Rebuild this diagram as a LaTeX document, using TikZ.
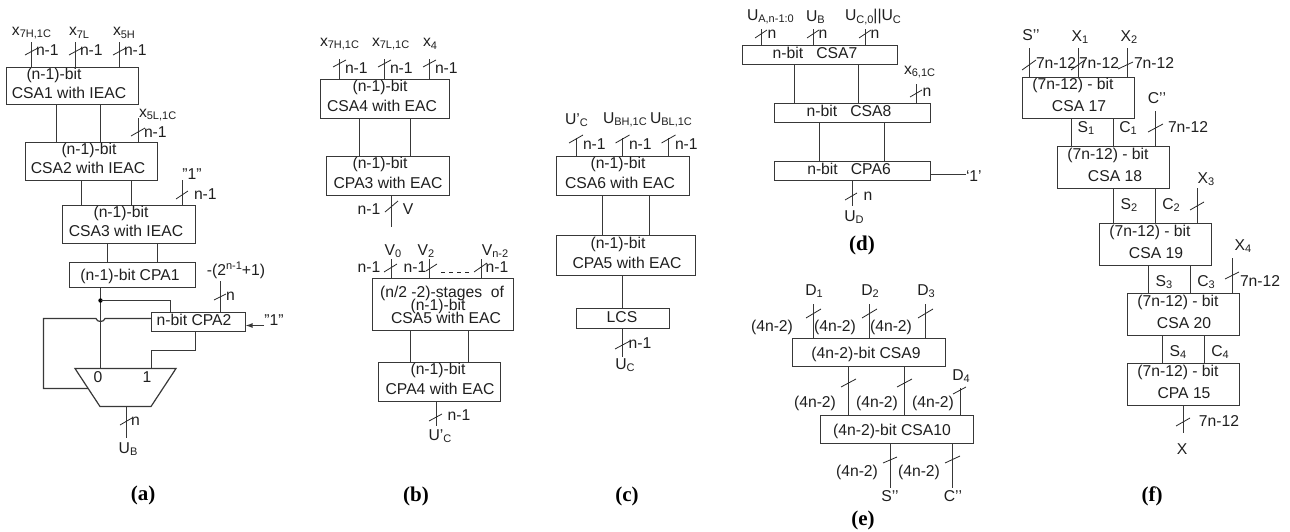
\documentclass[tikz,border=0pt]{standalone}
\usepackage{fontspec}
\usetikzlibrary{arrows.meta}
\setmainfont{Liberation Sans}
\newfontfamily\capfont{Liberation Serif}
\newcounter{tn}
\tikzset{
  wirest/.style={line width=1.2pt,color=black!78},
  tickst/.style={line width=0.8pt,color=black!85},
  boxst/.style={draw=black!78,line width=1.2pt,fill=none,inner sep=0pt,outer sep=0pt},
  txt/.style={inner sep=0pt,outer sep=0pt,text=black!88,font=\fontsize{15.7}{15.7}\selectfont},
  capst/.style={inner sep=0pt,outer sep=0pt,text=black,font=\capfont\bfseries\fontsize{21}{21}\selectfont}
}
\newcommand{\sbs}[1]{\raisebox{-0.3ex}{\fontsize{11}{11}\selectfont #1}}
\newcommand{\sps}[1]{\raisebox{0.75ex}{\fontsize{11}{11}\selectfont #1}}
\newcommand{\qt}{\char34\relax}
\newcommand{\dq}{'\kern0pt'}
\newcommand{\snp}[2]{\pgfmathsetmacro{#1}{floor(#2)+0.5}}
% box: name x1 y1 x2 y2 (edges snapped to pixel centres)
\newcommand{\bx}[5]{%
  \snp{\xa}{#2}\snp{\ya}{#3}\snp{\xb}{#4}\snp{\yb}{#5}%
  \pgfmathsetmacro{\bw}{\xb-\xa}\pgfmathsetmacro{\bh}{\yb-\ya}%
  \pgfmathsetmacro{\cxx}{(\xa+\xb)/2}\pgfmathsetmacro{\cyy}{(\ya+\yb)/2}%
  \node[boxst,minimum width=\bw pt,minimum height=\bh pt] (#1) at (\cxx,\cyy) {};}
% centred and left-anchored text
\newcommand{\lb}[3]{\stepcounter{tn}\node[txt] (t\thetn) at (#1,#2) {#3};}
\newcommand{\lw}[3]{\stepcounter{tn}\node[txt,anchor=west] (t\thetn) at (#1,#2) {#3};}
% wire between boxes at x
\newcommand{\wire}[3]{\stepcounter{tn}\snp{\xa}{#3}\coordinate (c\thetn) at (\xa,0);\draw[wirest] (#1.south -| c\thetn) -- (#2.north -| c\thetn);}
% free wire into top of box: box x ytop
\newcommand{\inw}[3]{\stepcounter{tn}\snp{\xa}{#2}\coordinate (c\thetn) at (\xa,#3);\draw[wirest] (c\thetn) -- (#1.north -| c\thetn);}
% free wire out of bottom: box x ybot
\newcommand{\outw}[3]{\stepcounter{tn}\snp{\xa}{#2}\coordinate (c\thetn) at (\xa,#3);\draw[wirest] (#1.south -| c\thetn) -- (c\thetn);}
\newcommand{\tk}[4]{\draw[tickst] (#1,#2) -- (#3,#4);}
\begin{document}
\begin{tikzpicture}[x=1pt,y=-1pt]
\useasboundingbox (0,0) rectangle (1290,531);
%% (a)
\bx{csaa}{6}{67}{138}{104}
\bx{csab}{25}{142}{157}{180}
\bx{csac}{62.5}{205}{195}{243}
\bx{cpaa}{69}{262}{195}{287}
\bx{cpab}{151}{312}{245}{331}
\lb{54}{75}{(n-1)-bit}\lb{69}{93}{CSA1 with IEAC}
\lb{89}{150}{(n-1)-bit}\lb{88}{168}{CSA2 with IEAC}
\lb{121}{213}{(n-1)-bit}\lb{126}{231}{CSA3 with IEAC}
\lb{130}{276}{(n-1)-bit CPA1}\lb{194}{320}{n-bit CPA2}
\inw{csaa}{31}{42}\inw{csaa}{75}{42}\inw{csaa}{119}{42}
\tk{25}{55}{38}{48}\tk{69}{55}{82}{48}\tk{113}{55}{126}{48}
\lw{12}{33}{x\sbs{7H,1C}}\lw{69}{33}{x\sbs{7L}}\lw{113}{33}{x\sbs{5H}}
\lw{36}{50}{n-1}\lw{80}{50}{n-1}\lw{124}{50}{n-1}
\wire{csaa}{csab}{56}\wire{csaa}{csab}{100}
\inw{csab}{138}{118}\tk{131}{136}{145}{128}
\lw{139}{115}{x\sbs{5L,1C}}\lw{144}{132}{n-1}
\wire{csab}{csac}{81.5}\wire{csab}{csac}{131.5}
\inw{csac}{182}{180}\tk{176}{199}{188}{191}
\lb{192}{174}{\qt1\qt}\lw{194}{194}{n-1}
\wire{csac}{cpaa}{107}\wire{csac}{cpaa}{157}
% mux
\coordinate (mtl) at (75,368.5);\coordinate (mtr) at (176,368.5);
\coordinate (mbr) at (151,406.5);\coordinate (mbl) at (100,406.5);
\draw[wirest] (mtl) -- (mtr) -- (mbr) -- (mbl) -- cycle;
\lb{98}{377}{0}\lb{147}{377}{1}
\coordinate (dot) at (100.5,300.5);
\coordinate (mi0) at (100.5,368.5);
\draw[wirest] (cpaa.south -| dot) -- (mi0);
\fill[black] (dot) circle (2.2pt);
\coordinate (dotx) at (170.5,300.5);
\draw[wirest] (dot) -- (dotx) -- (cpab.north -| dotx);
\coordinate (hopa) at (151.5,318.5);
\coordinate (mil) at (88,388.5);
\draw[wirest] (hopa) -- (105,318.5) .. controls (104,322.5) and (97,322.5) .. (96,318.5) -- (43.5,318.5) -- (43.5,388.5) -- (mil);
\coordinate (cpbo) at (195.5,350.5);\coordinate (mi1) at (151.5,368.5);
\draw[wirest] (cpab.south -| cpbo) -- (cpbo) -| (mi1);
\inw{cpab}{220}{281}\tk{214}{300}{226}{294}
\lb{236}{270}{-(2\sps{n-1}+1)}\lw{226}{296}{n}
\coordinate (one) at (264,325.5);
\draw[wirest,-{Latex[length=7pt,width=5pt]}] (one) -- (cpab.east |- one);
\lb{274}{320}{\qt1\qt}
\coordinate (mo) at (126.5,406.5);\coordinate (moe) at (126.5,438);
\draw[wirest] (mo) -- (moe);
\tk{120}{425}{132}{418}\lw{131}{421}{n}\lb{128}{449}{U\sbs{B}}
\node[capst] (capa) at (143,495) {(a)};
%% (b)
\bx{csad}{320}{79}{449}{118}
\bx{cpac}{326.5}{156}{449}{195}
\lb{380}{87}{(n-1)-bit}\lb{382}{106}{CSA4 with EAC}
\lb{380}{164}{(n-1)-bit}\lb{388}{183}{CPA3 with EAC}
\inw{csad}{339.5}{59}\inw{csad}{384.5}{59}\inw{csad}{429.5}{59}
\tk{333}{67}{346}{60}\tk{378}{67}{391}{60}\tk{423}{67}{436}{60}
\lw{320}{44}{x\sbs{7H,1C}}\lw{372}{44}{x\sbs{7L,1C}}\lw{423}{44}{x\sbs{4}}
\lw{345}{68}{n-1}\lw{390}{68}{n-1}\lw{435}{68}{n-1}
\wire{csad}{cpac}{359}\wire{csad}{cpac}{410}
\outw{cpac}{391}{227}\tk{385}{212}{398}{201}
\lb{369}{209}{n-1}\lb{408}{209}{V}
\bx{csae}{372}{278.5}{513}{330}
\bx{cpad}{378}{362}{500}{401}
\lb{442}{293}{(n/2 -2)-stages\ \ of}\lb{438}{306}{(n-1)-bit}\lb{446}{318}{CSA5 with EAC}
\lb{438}{370}{(n-1)-bit}\lb{440}{389}{CPA4 with EAC}
\inw{csae}{391}{259}\inw{csae}{429}{259}\inw{csae}{481}{259}
\tk{384}{272}{397}{264}\tk{426}{271}{437}{264}\tk{474}{272}{487}{263}
\lb{393}{251}{V\sbs{0}}\lb{426}{251}{V\sbs{2}}\lb{495}{251}{V\sbs{n-2}}
\lb{369}{267}{n-1}\lb{415}{267}{n-1}\lb{497}{267}{n-1}
\coordinate (da) at (441,272);\coordinate (db) at (469,272);
\draw[tickst,dash pattern=on 4pt off 4pt] (da) -- (db);
\wire{csae}{cpad}{410}\wire{csae}{cpad}{468}
\outw{cpad}{436}{426}\tk{429}{421}{442}{414}
\lb{459}{415}{n-1}\lb{440}{436}{U'\sbs{C}}
\node[capst] (capb) at (416,496) {(b)};
%% (c)
\bx{csaf}{556.5}{156}{689}{195}
\bx{cpae}{556.5}{235.5}{695.5}{275}
\bx{lcs}{576}{308}{669}{328}
\lb{618}{164}{(n-1)-bit}\lb{620}{183}{CSA6 with EAC}
\lb{618}{244}{(n-1)-bit}\lb{627}{263}{CPA5 with EAC}
\lb{622}{317}{LCS}
\inw{csaf}{576}{138}\inw{csaf}{622.5}{138}\inw{csaf}{668.5}{138}
\tk{569}{143}{583}{135}\tk{615.5}{143}{629.5}{135}\tk{661.5}{143}{675.5}{135}
\lw{565}{120}{U'\sbs{C}}\lw{603}{120}{U\sbs{BH,1C}}\lw{650}{120}{U\sbs{BL,1C}}
\lw{583}{144}{n-1}\lw{629}{144}{n-1}\lw{675}{144}{n-1}
\wire{csaf}{cpae}{602.5}\wire{csaf}{cpae}{649}
\wire{cpae}{lcs}{622.5}
\outw{lcs}{622.5}{357}\tk{615}{349}{630}{341}
\lb{640}{343}{n-1}\lb{625}{365}{U\sbs{C}}
\node[capst] (capc) at (627,496) {(c)};
%% (d)
\bx{csag}{742}{45}{897}{64}
\bx{csah}{774}{103}{930}{122}
\bx{cpaf}{774}{161}{930}{180.5}
\lb{815}{53}{n-bit\ \ \ CSA7}\lb{849}{111}{n-bit\ \ \ CSA8}\lb{849}{169}{n-bit\ \ \ CPA6}
\inw{csag}{761}{29}\inw{csag}{813}{29}\inw{csag}{865}{29}
\tk{755}{38}{767}{30}\tk{807}{38}{819}{30}\tk{859}{38}{871}{30}
\lb{772}{34}{n}\lb{823}{34}{n}\lb{875}{34}{n}
\lw{747}{17}{U\sbs{A,n-1:0}}\lw{806}{17}{U\sbs{B}}\lw{845}{17}{U\sbs{C,0}||U\sbs{C}}
\wire{csag}{csah}{794}\wire{csag}{csah}{858}
\inw{csah}{916.5}{84}\tk{910}{97}{922}{90}
\lb{927}{92}{n}\lw{904}{72}{x\sbs{6,1C}}
\wire{csah}{cpaf}{819.5}\wire{csah}{cpaf}{884}
\coordinate (dqc) at (966,174.5);
\draw[wirest] (cpaf.east |- dqc) -- (dqc);
\lw{966}{176}{‘1’}
\outw{cpaf}{852}{206}\tk{845}{200}{857}{193}
\lb{868}{196}{n}\lb{854}{217}{U\sbs{D}}
\node[capst] (capd) at (862,245) {(d)};
%% (e)
\bx{csai}{792}{338.5}{945}{366}
\bx{csaj}{820}{415}{973}{443}
\lb{866}{354}{(4n-2)-bit CSA9}\lb{892}{431}{(4n-2)-bit CSA10}
\inw{csai}{813}{304}\inw{csai}{869}{304}\inw{csai}{925}{304}
\tk{806}{318}{821}{309}\tk{862}{318}{877}{309}\tk{918}{318}{933}{309}
\lb{814}{291}{D\sbs{1}}\lb{870}{291}{D\sbs{2}}\lb{926}{291}{D\sbs{3}}
\lb{772}{327}{(4n-2)}\lb{835}{327}{(4n-2)}\lb{891}{327}{(4n-2)}
\wire{csai}{csaj}{848}\wire{csai}{csaj}{904}
\tk{841}{387}{856}{379}\tk{897}{387}{912}{379}
\lb{815}{403}{(4n-2)}\lb{877}{403}{(4n-2)}\lb{933}{403}{(4n-2)}
\inw{csaj}{960}{388}\tk{953}{394}{966}{387}
\lb{961}{376}{D\sbs{4}}
\outw{csaj}{890}{488}\outw{csaj}{952}{488}
\tk{883}{463}{897}{457}\tk{945}{463}{960}{456}
\lb{857}{472}{(4n-2)}\lb{919}{472}{(4n-2)}
\lb{890}{496}{S\dq}\lb{953}{496}{C\dq}
\node[capst] (cape) at (863,520) {(e)};
%% (f)
\bx{cs17}{1022}{77}{1134}{118}
\bx{cs18}{1057}{146}{1169}{188}
\bx{cs19}{1099}{223}{1211}{265}
\bx{cs20}{1127}{293}{1239}{335}
\bx{cp15}{1127}{363}{1239}{405}
\lb{1073}{85}{(7n-12) - bit}\lb{1079}{106}{CSA 17}
\lb{1108}{155}{(7n-12) - bit}\lb{1115}{176}{CSA 18}
\lb{1150}{232}{(7n-12) - bit}\lb{1156}{253}{CSA 19}
\lb{1178}{302}{(7n-12) - bit}\lb{1184}{323}{CSA 20}
\lb{1178}{372}{(7n-12) - bit}\lb{1184}{393}{CPA 15}
\inw{cs17}{1029}{48}\inw{cs17}{1078}{48}\inw{cs17}{1127}{48}
\tk{1022}{70}{1036}{60}\tk{1071}{70}{1085}{60}\tk{1118}{69}{1133}{62}
\lb{1031}{35}{S\dq}\lb{1080}{37}{X\sbs{1}}\lb{1129}{37}{X\sbs{2}}
\lw{1036}{63}{7n-12}\lw{1079}{63}{7n-12}\lw{1134}{63}{7n-12}
\wire{cs17}{cs18}{1071}\wire{cs17}{cs18}{1113}
\lb{1086}{128}{S\sbs{1}}\lb{1128}{128}{C\sbs{1}}
\inw{cs18}{1155}{111}\tk{1148}{132}{1163}{124}
\lb{1157}{98}{C\dq}\lw{1168}{127}{7n-12}
\wire{cs18}{cs19}{1113}\wire{cs18}{cs19}{1155}
\lb{1129}{205}{S\sbs{2}}\lb{1171}{205}{C\sbs{2}}
\inw{cs19}{1197}{188}\tk{1190}{210}{1204}{202}
\lb{1206}{179}{X\sbs{3}}
\wire{cs19}{cs20}{1148}\wire{cs19}{cs20}{1190}
\lb{1164}{282}{S\sbs{3}}\lb{1206}{282}{C\sbs{3}}
\inw{cs20}{1232}{258}\tk{1225}{279}{1239}{272}
\lb{1243}{246}{X\sbs{4}}\lw{1240}{281}{7n-12}
\wire{cs20}{cp15}{1162}\wire{cs20}{cp15}{1204}
\lb{1178}{352}{S\sbs{4}}\lb{1220}{352}{C\sbs{4}}
\outw{cp15}{1183}{433}\tk{1176}{426}{1190}{418}
\lb{1219}{421}{7n-12}\lb{1182}{449}{X}
\node[capst] (capf) at (1152,496) {(f)};
\end{tikzpicture}
\end{document}
